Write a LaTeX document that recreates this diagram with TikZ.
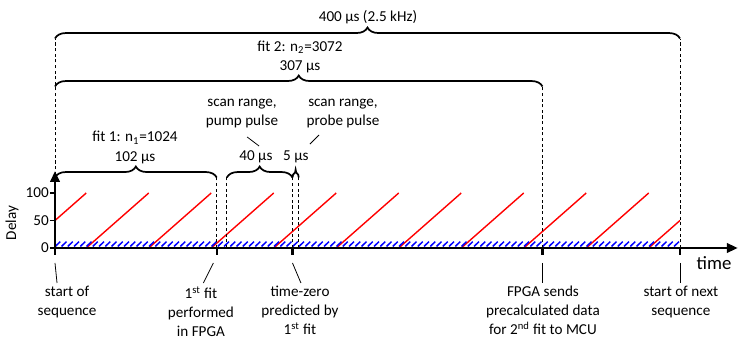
\documentclass[tikz,border=0pt]{standalone}
\usepackage{fontspec}
\setmainfont{Carlito}
\usetikzlibrary{arrows.meta,decorations.pathreplacing}
\definecolor{rampred}{RGB}{255,0,0}
\definecolor{hatchblue}{RGB}{0,0,255}
\tikzset{
  axisline/.style={line width=1.6pt,-{Triangle[length=7pt,width=6pt]}},
  rampline/.style={rampred,line width=0.9pt},
  hatchline/.style={hatchblue,line width=0.95pt},
  spanbrace/.style={decorate,decoration={brace,amplitude=7pt},line width=1.1pt},
  guide/.style={dashed,dash pattern=on 2pt off 1.6pt,line width=0.5pt},
  leader/.style={line width=0.5pt},
  lbl/.style={align=center,inner sep=0pt,font=\fontsize{9.7}{12.2}\selectfont},
}
\newcommand{\timemark}[7]{%
  \coordinate (#1axis) at (#2,0);
  \coordinate (#1top) at (#2,#5);
  \coordinate (#1tick) at (#2,-7);
  \coordinate (#1a) at (#3,-15);
  \coordinate (#1b) at (#4,-35);
  \draw[guide] (#1axis) -- (#1top);
  \draw[line width=1.3pt] (#1axis) -- (#1tick);
  \draw[leader] (#1a) -- (#1b);
  \node[lbl,anchor=north] (#1) at (#6,-38) {#7};%
}

\begin{document}
\begin{tikzpicture}[x=1pt,y=0.64pt]
  \useasboundingbox (-35.2,-96) rectangle (442.9,248);
  \coordinate (origin) at (0,0);
  \coordinate (tend) at (437,0);
  \coordinate (dend) at (0,77);

  \draw[rampline] (0,27.5) -- (20,55);
  \foreach \k in {0,...,8} {
    \draw[rampline] ({20+40*\k},0) -- ++(40,55);
  }
  \draw[rampline] (380,0) -- (400,27.5);
  \foreach \h in {0,4,...,396} {
    \draw[hatchline] (\h+0.2,1.6) -- ++(3.2,4.8);
  }

  \foreach \d in {0,50,100} {
    \draw[line width=0.8pt] (-3.2,{0.55*\d}) -- (0,{0.55*\d});
    \node[lbl,anchor=east] (dl\d) at (-3.8,{0.55*\d}) {\d};
  }
  \draw[axisline] (origin) -- (tend);
  \draw[axisline] (origin) -- (dend);
  \node[font=\fontsize{12}{14}\selectfont,inner sep=0pt] (timelbl) at (421.8,-15) {time};
  \node[lbl,rotate=90] (delaylbl) at (-27.5,25) {Delay};

  \timemark{seqstart}{0}{0}{1.3}{209.5}{7.7}{start of\\sequence}
  \timemark{firstfit}{103.5}{101.4}{95}{70.5}{93.4}{1\textsuperscript{st} fit\\performed\\in FPGA}
  \timemark{tzero}{152}{152}{157.4}{70.5}{156.8}{time-zero\\predicted by\\1\textsuperscript{st} fit}
  \timemark{fpgasend}{312}{312}{312}{161.5}{312.3}{FPGA sends\\precalculated data\\for 2\textsuperscript{nd} fit to MCU}
  \timemark{seqnext}{400}{400}{400}{209.5}{400.6}{start of next\\sequence}

  \coordinate (fittwol) at (0,161.5);
  \coordinate (fitonel) at (0,70.5);
  \coordinate (pumpaxis) at (110,0);
  \coordinate (pumpl) at (110,70.5);
  \coordinate (probeaxis) at (156,0);
  \coordinate (prober) at (156,70.5);
  \draw[guide] (pumpaxis) -- (pumpl);
  \draw[guide] (probeaxis) -- (prober);

  \draw[spanbrace] (seqstarttop) -- (seqnexttop);
  \draw[spanbrace] (fittwol) -- (fpgasendtop);
  \draw[spanbrace] (fitonel) -- (firstfittop);
  \draw[spanbrace] (pumpl) -- (tzerotop);
  \draw[spanbrace,decoration={brace,amplitude=5pt}] (tzerotop) -- (prober);

  \node[lbl] (period) at (200.3,231) {400 µs (2.5 kHz)};
  \node[lbl] (fittwo) at (156.8,191) {fit 2: n\textsubscript{2}=3072\\307 µs};
  \node[lbl] (fitone) at (51.2,100.5) {fit 1: n\textsubscript{1}=1024\\102 µs};
  \node[lbl] (pumplbl) at (119.7,134) {scan range,\\pump pulse};
  \node[lbl] (probelbl) at (184.3,134) {scan range,\\probe pulse};
  \node[lbl] (pumpdur) at (128.6,91) {40 µs};
  \node[lbl] (probedur) at (154.2,91) {5 µs};

  \coordinate (pumpa) at (123,111);
  \coordinate (pumpb) at (130.6,102);
  \coordinate (probea) at (163.2,104);
  \coordinate (probeb) at (169,113);
  \draw[leader] (pumpa) -- (pumpb);
  \draw[leader] (probea) -- (probeb);
\end{tikzpicture}
\end{document}
